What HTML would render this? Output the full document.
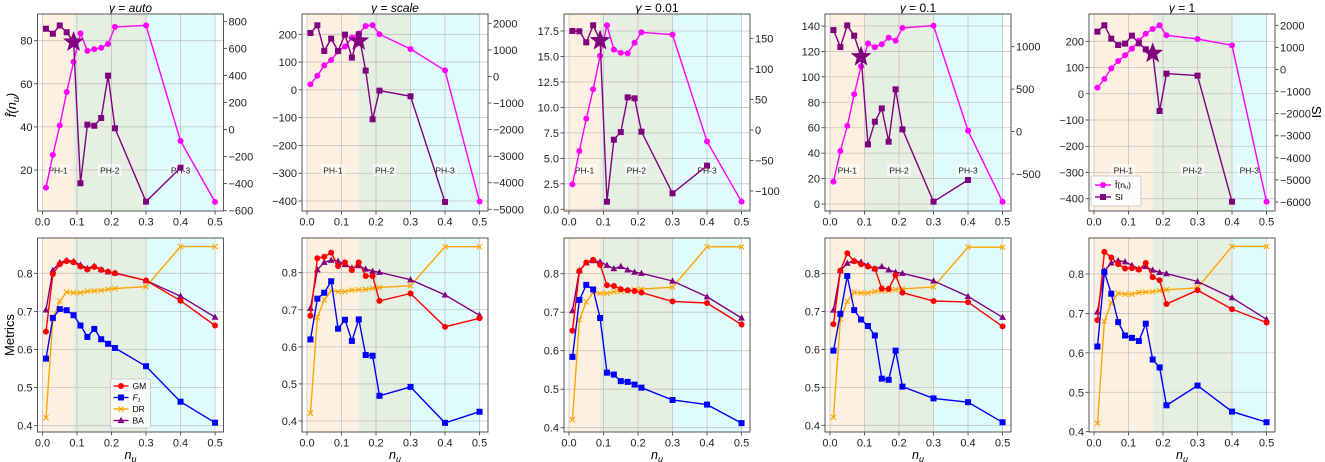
<!DOCTYPE html>
<html><head><meta charset="utf-8">
<style>
html,body{margin:0;padding:0;background:#fff;}
svg{display:block;font-family:"Liberation Sans","DejaVu Sans",sans-serif;}
</style></head>
<body>
<svg id="fig" width="1325" height="462" viewBox="0 0 1325 462" xmlns="http://www.w3.org/2000/svg"></svg>
<script>
const xs=[0.01,0.03,0.05,0.07,0.09,0.11,0.13,0.15,0.17,0.19,0.21,0.3,0.4,0.5];
const xsSI=[0.01,0.03,0.05,0.07,0.09,0.11,0.13,0.15,0.17,0.19,0.21,0.3,0.4];
const titles=["auto","scale","0.01","0.1","1"];
const f1=[11.8,27.0,40.7,56.2,70.2,83.4,75.3,76.1,76.7,78.5,86.4,87.1,33.5,5.2];
const f2=[20,51,88,107,138,156,188,202,230,233,200,147,70,-402];
const f3=[2.45,5.72,8.9,11.78,15.08,18.06,15.67,15.37,15.31,16.35,17.37,17.14,6.67,0.75];
const f4=[17.6,41.7,61.4,86.3,108.3,126.2,123.3,125.6,130.9,128.5,138.5,140.3,57.7,1.8];
const f5=[23.3,56.4,97,125,146.6,172,202.5,229,247,261,222.9,208.9,184.7,-411.4];
const si1=[745,708,769,719,647,-397,36,28,85,398,9,-533,-282];
const si2=[1636,1925,959,1423,959,1573,708,1586,219,-1613,-534,-747,-4724];
const si3=[162,161.5,143.4,171.3,146.2,-117.5,-16,-3.5,53.3,51.7,-2.9,-103.8,-58.5];
const si4=[1196,996,1251,1130,882,-151,116,273,-119,497,26,-826,-571];
const si5=[1713,2000,1396,1109,1170,1532,1185,913,732,-1879,-189,-279,-5985];
const starX=[0.09,0.15,0.09,0.09,0.17];
const starY=[647,1335,146.2,882,732];
const phase1End=[0.09,0.15,0.09,0.1,0.17];
const phase2End=[0.3,0.3,0.3,0.3,0.4];
const gm1=[0.647,0.798,0.824,0.832,0.829,0.818,0.810,0.817,0.809,0.804,0.800,0.781,0.728,0.663];
const gm2=[0.684,0.839,0.843,0.854,0.818,0.828,0.807,0.828,0.791,0.791,0.724,0.744,0.654,0.677];
const gm3=[0.652,0.807,0.829,0.836,0.823,0.770,0.768,0.760,0.757,0.755,0.751,0.728,0.724,0.668];
const gm4=[0.667,0.808,0.854,0.833,0.825,0.819,0.813,0.761,0.760,0.796,0.750,0.728,0.725,0.661];
const gm5=[0.683,0.856,0.842,0.825,0.814,0.815,0.811,0.828,0.792,0.784,0.724,0.759,0.711,0.677];
const fs1=[0.576,0.683,0.706,0.703,0.690,0.663,0.633,0.654,0.627,0.615,0.604,0.556,0.463,0.408];
const fs2=[0.620,0.730,0.746,0.777,0.649,0.673,0.616,0.674,0.578,0.576,0.468,0.492,0.395,0.425];
const fs3=[0.584,0.732,0.771,0.759,0.685,0.543,0.538,0.521,0.519,0.512,0.504,0.472,0.460,0.412];
const fs4=[0.597,0.694,0.794,0.704,0.679,0.662,0.637,0.523,0.520,0.597,0.502,0.471,0.461,0.408];
const fs5=[0.616,0.805,0.750,0.678,0.644,0.638,0.630,0.674,0.583,0.563,0.467,0.517,0.451,0.424];
const dr=[0.421,0.680,0.727,0.751,0.749,0.749,0.753,0.754,0.755,0.758,0.760,0.765,0.870,0.870];
const ba=[0.704,0.808,0.828,0.834,0.831,0.822,0.813,0.819,0.810,0.804,0.801,0.781,0.740,0.685];
const leftTicks=[[20,40,60,80],[-400,-300,-200,-100,0,100,200],[0,2.5,5,7.5,10,12.5,15,17.5],[0,20,40,60,80,100,120,140],[-400,-300,-200,-100,0,100,200]];
const rightTicks=[[-600,-400,-200,0,200,400,600,800],[-5000,-4000,-3000,-2000,-1000,0,1000,2000],[-100,-50,0,50,100,150],[-500,0,500,1000],[-6000,-5000,-4000,-3000,-2000,-1000,0,1000,2000]];
const botTicks=[0.4,0.5,0.6,0.7,0.8];
const xTicks=[0,0.1,0.2,0.3,0.4,0.5];

const FS=[f1,f2,f3,f4,f5], SIS=[si1,si2,si3,si4,si5], GMS=[gm1,gm2,gm3,gm4,gm5], F1S=[fs1,fs2,fs3,fs4,fs5];
const PL=[37.5,302,564,825,1089], PW=186;
const TOP=[14,211], BOT=[238,432];
const calL=[[20,170,80,40.7],[200,34.3,-400,201],[17.5,31,0,209.3],[140,26,0,204],[200,41.3,-400,198.7]];
const calR=[[800,21.3,-600,210.7],[2000,23.3,-5000,209.3],[150,38.3,-100,191],[1000,46.7,-500,174],[2000,25.3,-6000,202]];
const calB=[[0.8,273.3,0.4,425.7],[0.8,272.7,0.4,421],[0.8,273.7,0.4,427.7],[0.8,273.7,0.4,425.3],[0.8,274,0.4,431.7]];

const svg=document.getElementById('fig');
const NS='http://www.w3.org/2000/svg';
function mk(tag,attrs,parent,text){const e=document.createElementNS(NS,tag);for(const k in attrs)e.setAttribute(k,attrs[k]);if(text!==undefined)e.textContent=text;(parent||svg).appendChild(e);return e;}
function lin(c){return v=>c[1]+(v-c[0])*(c[3]-c[1])/(c[2]-c[0]);}
function fmt(v){const s=(Math.abs(v)<1e-9?"0":String(v));return s.replace('-','\u2212');}
function fmtD(v,d){return v.toFixed(d).replace('-','\u2212');}
function star(cx,cy,R,r){let p=[];for(let i=0;i<10;i++){const a=-Math.PI/2+i*Math.PI/5;const rr=i%2?r:R;p.push((cx+rr*Math.cos(a)).toFixed(1)+','+(cy+rr*Math.sin(a)).toFixed(1));}return p.join(' ');}

function marker(g,type,x,y,color){
  let e;
  if(type==='o'){e=mk('circle',{cx:x,cy:y,r:3,fill:color},g);}
  else if(type==='s'){e=mk('rect',{x:x-3,y:y-3,width:6,height:6,fill:color},g);}
  else if(type==='^'){e=mk('polygon',{points:`${x},${y-3.6} ${x-3.4},${y+2.6} ${x+3.4},${y+2.6}`,fill:color},g);}
  else if(type==='x'){e=mk('path',{d:`M${x-2.6},${y-2.6}L${x+2.6},${y+2.6}M${x-2.6},${y+2.6}L${x+2.6},${y-2.6}`,stroke:color,'stroke-width':1.1},g);}
  
  
}
function series(g,X,Y,xf,yf,color,type,name){
  const sg=mk('g',{},g);
  
  
  const pts=X.map((x,i)=>xf(x).toFixed(1)+','+yf(Y[i]).toFixed(1)).join(' ');
  mk('polyline',{points:pts,fill:'none',stroke:color,'stroke-width':1.4},sg);
  X.forEach((x,i)=>marker(sg,type,xf(x),yf(Y[i]),color));
}

for(let p=0;p<5;p++){
  const L=PL[p];
  const xf=x=>L+(x+0.0145)/0.539*PW;
  const panel=mk('g',{});
  
  
  const t=mk('text',{x:L+PW/2,y:12,'text-anchor':'middle','font-size':12},panel);
  
  
  mk('tspan',{'font-style':'italic'},t,'\u03B3');
  mk('tspan',{},t,' = ');
  mk('tspan',{'font-style':(p<2?'italic':'normal')},t,titles[p]);

  [[TOP,'top'],[BOT,'bottom']].forEach(([yr,kind])=>{
    const ax=mk('g',{},panel);
    
    
    const phases=[[0,phase1End[p],'#fcf1e0'],[phase1End[p],phase2End[p],'#e5efe2'],[phase2End[p],0.5,'#e0fbfb']];
    phases.forEach((ph,i)=>{
      const r=mk('rect',{x:xf(ph[0]),y:yr[0],width:xf(ph[1])-xf(ph[0]),height:yr[1]-yr[0],fill:ph[2]},ax);
      
      
    });
    const yf = kind==='top'?lin(calL[p]):lin(calB[p]);
    const lt = kind==='top'?leftTicks[p]:botTicks;
    xTicks.forEach(v=>mk('line',{x1:xf(v),x2:xf(v),y1:yr[0],y2:yr[1],stroke:'#b0b0b0','stroke-width':0.8,'stroke-opacity':0.7},ax));
    lt.forEach(v=>mk('line',{x1:L,x2:L+PW,y1:yf(v),y2:yf(v),stroke:'#b0b0b0','stroke-width':0.8,'stroke-opacity':0.7},ax));
    lt.forEach(v=>{
      mk('line',{x1:L-3.5,x2:L,y1:yf(v),y2:yf(v),stroke:'#333','stroke-width':0.8},ax);
      const d=(kind==='bottom')?1:(p===2?1:0);
      const lab=mk('text',{x:L-5,y:yf(v)+4,'text-anchor':'end','font-size':11,fill:'#222'},ax,d?fmtD(v,d):fmt(v));
      
      
    });
    xTicks.forEach(v=>{
      mk('line',{x1:xf(v),x2:xf(v),y1:yr[1],y2:yr[1]+3.5,stroke:'#333','stroke-width':0.8},ax);
      const lab=mk('text',{x:xf(v),y:yr[1]+14.5,'text-anchor':'middle','font-size':11,fill:'#222'},ax,v.toFixed(1));
      
      
    });
    if(kind==='top'){
      const yr2=lin(calR[p]);
      rightTicks[p].forEach(v=>{
        mk('line',{x1:L+PW,x2:L+PW+3.5,y1:yr2(v),y2:yr2(v),stroke:'#333','stroke-width':0.8},ax);
        const lab=mk('text',{x:L+PW+5,y:yr2(v)+4,'text-anchor':'start','font-size':11,fill:'#222'},ax,fmt(v));
        
        
      });
      const cen=[(0+phase1End[p])/2,(phase1End[p]+phase2End[p])/2,(phase2End[p]+0.5)/2];
      cen.forEach((c,i)=>{
        mk('rect',{x:xf(c)-12,y:164,width:24,height:12,fill:'#fff','fill-opacity':0.5},ax);
        const pl=mk('text',{x:xf(c),y:173.5,'text-anchor':'middle','font-size':8.5,fill:'#222'},ax,'PH-'+(i+1));
        
        
      });
      series(ax,xs,FS[p],xf,yf,'#ff00ff','o','f-hat-series');
      series(ax,xsSI,SIS[p],xf,yr2,'#800080','s','si-series');
      const st=mk('polygon',{points:star(xf(starX[p]),yr2(starY[p]),11,4.6),fill:'#800080'},ax);
      
      
    } else {
      series(ax,xs,dr,xf,yf,'#ffa500','x','dr-series');
      series(ax,xs,ba,xf,yf,'#800080','^','ba-series');
      series(ax,xs,GMS[p],xf,yf,'#ff0000','o','gm-series');
      series(ax,xs,F1S[p],xf,yf,'#0000ff','s','f1-series');
      const xl=mk('text',{x:L+PW/2,y:yr[1]+27,'text-anchor':'middle','font-size':12.5,'font-style':'italic'},ax);
      
      
      xl.appendChild(document.createTextNode('n'));
      mk('tspan',{'font-size':9,dy:3},xl,'u');
    }
    const box=mk('rect',{x:L,y:yr[0],width:PW,height:yr[1]-yr[0],fill:'none',stroke:'#555','stroke-width':1},ax);
    
    
  });
}

const yt=mk('text',{transform:'translate(16,105) rotate(-90)','text-anchor':'middle','font-size':13,'font-style':'italic'});


yt.appendChild(document.createTextNode('f\u0302(n'));
mk('tspan',{'font-size':9,dy:3},yt,'u');
mk('tspan',{dy:-3},yt,')');
const mt=mk('text',{transform:'translate(14,335) rotate(-90)','text-anchor':'middle','font-size':13},undefined,'Metrics');


const sit=mk('text',{transform:'translate(1312,112) rotate(90)','text-anchor':'middle','font-size':13},undefined,'SI');



(function(){
  const g=mk('g',{});
  
  
  const x0=1089+2,y0=176;
  mk('rect',{x:x0,y:y0,width:50,height:30,rx:2,fill:'#fff','fill-opacity':0.85,stroke:'#ccc'},g);
  const items=[['#ff00ff','o','f\u0302(n\u1D64)'],['#800080','s','SI']];
  items.forEach((it,i)=>{
    const ey=y0+9+i*12;
    const e=mk('g',{},g);
    
    
    mk('line',{x1:x0+4,x2:x0+20,y1:ey,y2:ey,stroke:it[0],'stroke-width':1.4},e);
    marker(e,it[1],x0+12,ey,it[0]);
    mk('text',{x:x0+24,y:ey+3,'font-size':8.5},e,it[2]);
  });
})();
(function(){
  const g=mk('g',{});
  
  
  const x0=110.5,y0=379;
  mk('rect',{x:x0,y:y0,width:40,height:49,rx:2,fill:'#fff','fill-opacity':0.85,stroke:'#ccc'},g);
  const items=[['#ff0000','o','GM'],['#0000ff','s','F\u2081'],['#ffa500','x','DR'],['#800080','^','BA']];
  items.forEach((it,i)=>{
    const ey=y0+7+i*11.5;
    const e=mk('g',{},g);
    
    
    mk('line',{x1:x0+3,x2:x0+18,y1:ey,y2:ey,stroke:it[0],'stroke-width':1.4},e);
    marker(e,it[1],x0+10.5,ey,it[0]);
    mk('text',{x:x0+22,y:ey+3,'font-size':8.5,'font-style':i===1?'italic':'normal'},e,it[2]);
  });
})();
</script>
</body></html>
